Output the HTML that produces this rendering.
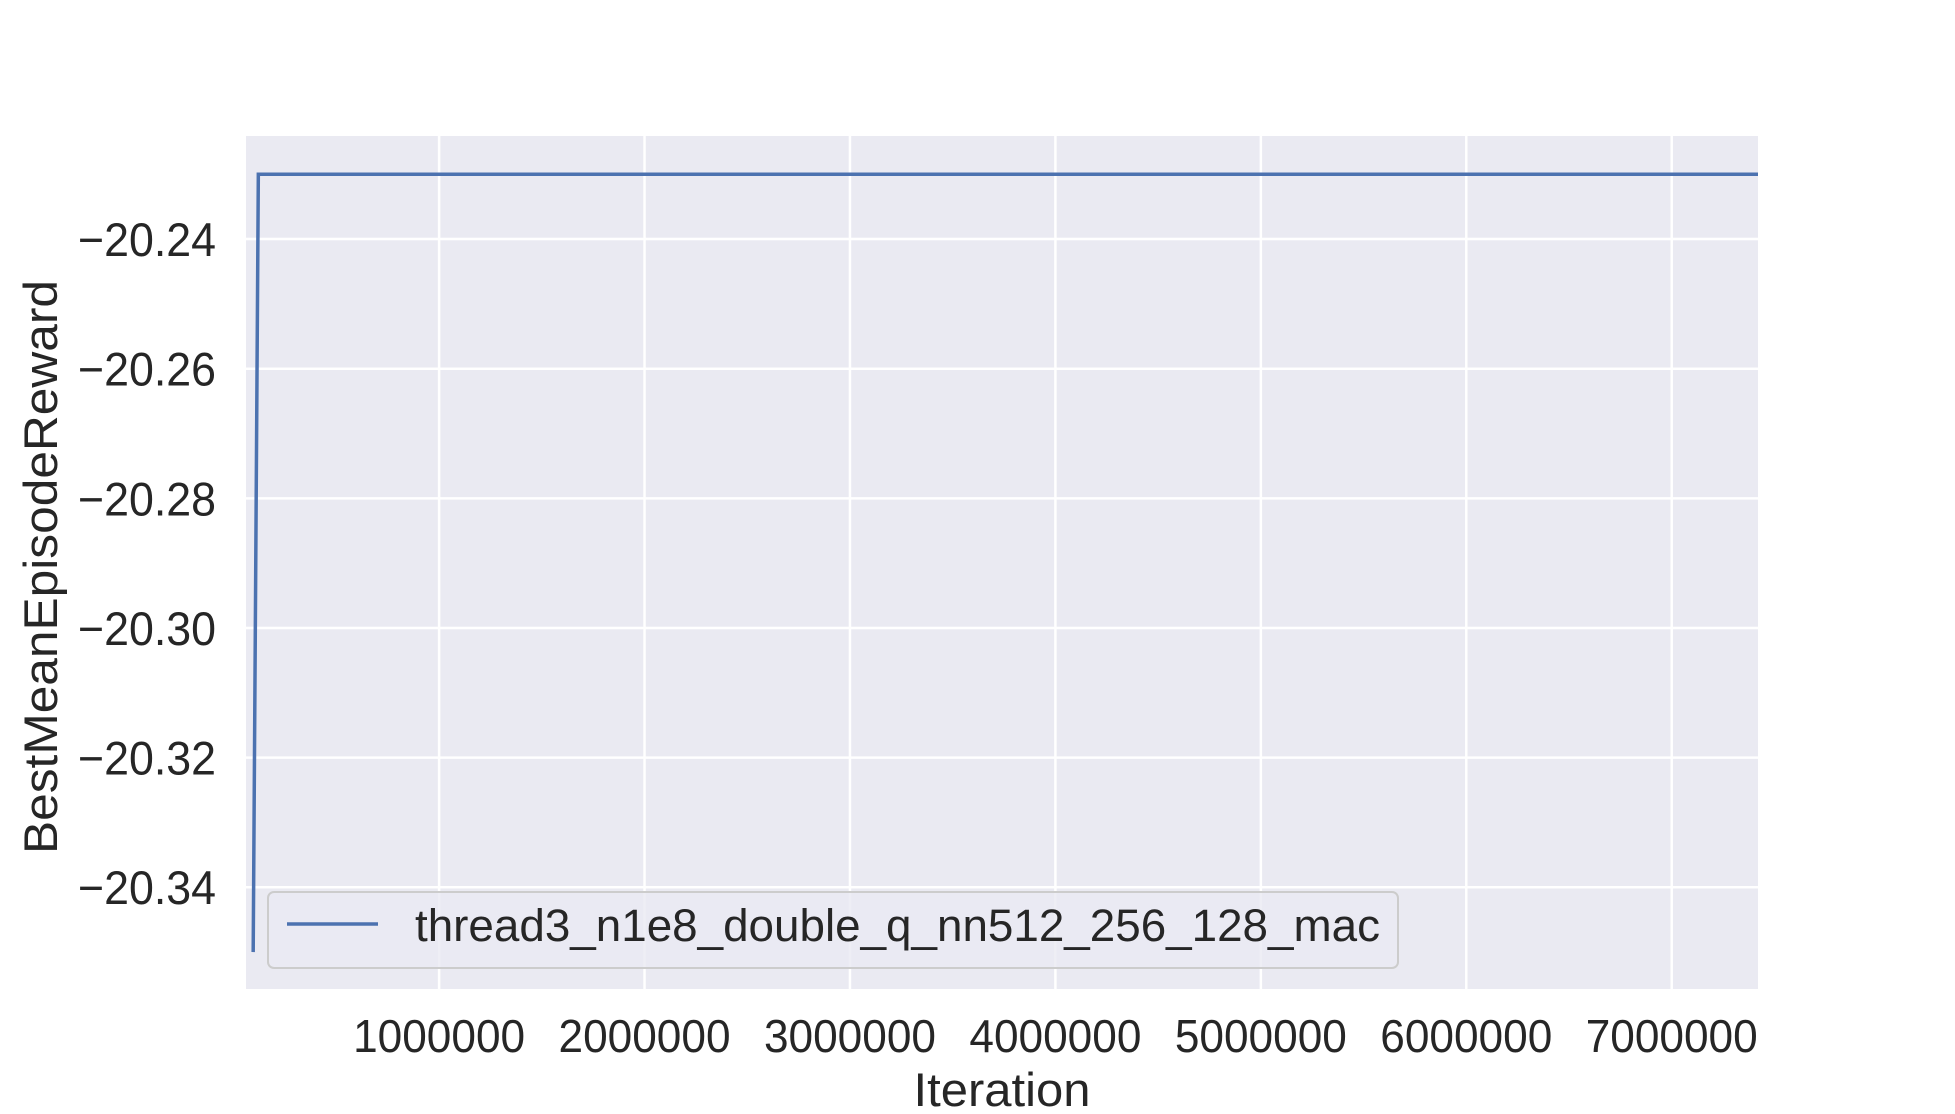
<!DOCTYPE html>
<html><head><meta charset="utf-8"><style>
html,body{margin:0;padding:0;background:#fff;}
svg{display:block;font-family:"Liberation Sans",sans-serif;}
</style></head><body>
<svg id="chart" width="1955" height="1114" viewBox="0 0 1955 1114">
<rect x="246" y="136" width="1512" height="853" fill="#eaeaf2"/>
<g id="grid"></g><g id="ticks"></g><g id="series"></g>
<text x="1002" y="1106" font-size="47" fill="#262626" text-anchor="middle" textLength="177" lengthAdjust="spacingAndGlyphs">Iteration</text>
<text transform="translate(57,567) rotate(-90)" font-size="47" fill="#262626" text-anchor="middle" textLength="574" lengthAdjust="spacingAndGlyphs">BestMeanEpisodeReward</text>
<g>
<rect x="268" y="892" width="1130" height="76" rx="6" fill="#eaeaf2" fill-opacity="0.8" stroke="#cccccc" stroke-width="2"/>
<line x1="287" y1="924" x2="378" y2="924" stroke="#4c72b0" stroke-width="3.5"/>
<text x="415" y="941" font-size="45" fill="#262626" textLength="965" lengthAdjust="spacingAndGlyphs">thread3_n1e8_double_q_nn512_256_128_mac</text>
</g>
</svg>
<script>
const xTicks=[1000000,2000000,3000000,4000000,5000000,6000000,7000000];
const yTicks=[-20.24,-20.26,-20.28,-20.30,-20.32,-20.34];
const yTickLabels=["−20.24","−20.26","−20.28","−20.30","−20.32","−20.34"];
const iterations=[95000,120000,7420000];
const rewards=[-20.35,-20.23,-20.23];
const X0=246,X1=1758,Y0=136,Y1=989;
const xmin=60000,xmax=7420000,ymin=-20.3557,ymax=-20.2241;
function sx(v){return X0+(v-xmin)/(xmax-xmin)*(X1-X0);}
function sy(v){return Y1-(v-ymin)/(ymax-ymin)*(Y1-Y0);}
const NS="http://www.w3.org/2000/svg";
const grid=document.getElementById('grid'),ticks=document.getElementById('ticks'),series=document.getElementById('series');
xTicks.forEach(t=>{
 const l=document.createElementNS(NS,'line');
 l.setAttribute('x1',sx(t));l.setAttribute('x2',sx(t));l.setAttribute('y1',Y0);l.setAttribute('y2',Y1);
 l.setAttribute('stroke','#fff');l.setAttribute('stroke-width','2.5');
 
 
 grid.appendChild(l);
 const tx=document.createElementNS(NS,'text');
 tx.setAttribute('x',sx(t));tx.setAttribute('y',1052);tx.setAttribute('font-size','46');tx.setAttribute('fill','#262626');tx.setAttribute('text-anchor','middle');
 tx.setAttribute('textLength','172');tx.setAttribute('lengthAdjust','spacingAndGlyphs');
 tx.textContent=String(t);
 
 
 ticks.appendChild(tx);
});
yTicks.forEach((t,i)=>{
 const l=document.createElementNS(NS,'line');
 l.setAttribute('x1',X0);l.setAttribute('x2',X1);l.setAttribute('y1',sy(t));l.setAttribute('y2',sy(t));
 l.setAttribute('stroke','#fff');l.setAttribute('stroke-width','2.5');
 
 
 grid.appendChild(l);
 const tx=document.createElementNS(NS,'text');
 tx.setAttribute('x',216);tx.setAttribute('y',sy(t)+17);tx.setAttribute('font-size','47');tx.setAttribute('fill','#262626');tx.setAttribute('text-anchor','end');
 tx.setAttribute('textLength','138');tx.setAttribute('lengthAdjust','spacingAndGlyphs');
 tx.textContent=yTickLabels[i];
 
 
 ticks.appendChild(tx);
});
const p=document.createElementNS(NS,'polyline');
p.setAttribute('points',iterations.map((v,i)=>sx(v)+','+sy(rewards[i])).join(' '));
p.setAttribute('fill','none');p.setAttribute('stroke','#4c72b0');p.setAttribute('stroke-width','3.5');


series.appendChild(p);
</script>
</body></html>
